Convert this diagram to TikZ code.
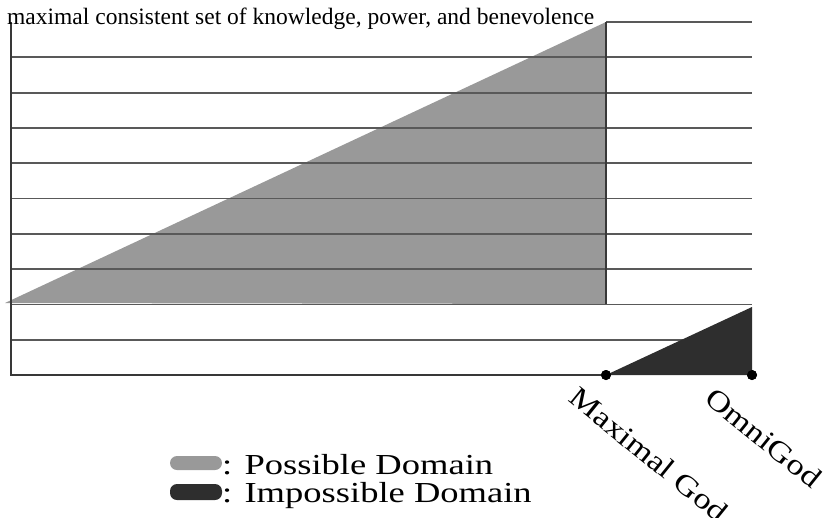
\documentclass[tikz,border=0pt]{standalone}
\usepackage{fontspec}
\setmainfont{Liberation Serif}
\begin{document}
\begin{tikzpicture}[x=1pt,y=-1pt,
    grid/.style={draw=black!65,line width=1.8pt},
    axis/.style={draw=black!78,line width=2.2pt},
    possible/.style={fill=black!40},
    impossible/.style={fill=black!82},
    dot/.style={circle,fill=black,inner sep=0pt,minimum size=10pt},
    godlabel/.style={font=\fontsize{29}{29}\selectfont\addfontfeature{FakeStretch=1.2},rotate=-39,anchor=north west,inner sep=0pt},
    legendbar/.style={rounded corners=7pt,minimum width=52pt,minimum height=14pt,inner sep=0pt},
    legendtext/.style={font=\fontsize{29}{29}\selectfont\addfontfeature{FakeStretch=1.26},anchor=base west,inner sep=0pt}]
  \useasboundingbox (0,0) rectangle (838,517);
  \coordinate (low) at (5,303); % left tip of the possible domain
  \coordinate (top) at (606,22);
  \coordinate (mid) at (606,304);
  \coordinate (right) at (752,307); % top of the impossible domain
  \node[dot] (maxgod) at (606,375) {}; % Maximal God
  \node[dot] (omni) at (752,375) {}; % OmniGod
  \fill[possible] (low) -- (top) -- (mid) -- cycle; % possible domain
  \foreach \k in {1,...,9}
    \draw[grid] (11,22+35.3*\k) -- (752,22+35.3*\k); % levels
  \draw[grid] (top) -- (752,22);
  \draw[axis] (11,375) -- (maxgod.center);
  \fill[impossible] (maxgod.center) -- (omni.center) -- (right) -- cycle; % impossible domain
  \draw[axis] (top) -- (mid);
  \draw[axis] (11,22) -- (11,376);
  \node[dot] at (maxgod) {};
  \node[dot] at (omni) {};
  \node[font=\fontsize{23.5}{23.5}\selectfont,anchor=base west,inner sep=0pt] (title) at (7,24)
    {maximal consistent set of knowledge, power, and benevolence};
  \node[godlabel] (lmax) at (580,385) {Maximal God};
  \node[godlabel] (lomni) at (716,386) {OmniGod};
  \node[legendbar,fill=black!40] (pbar) at (196,463) {};
  \node[legendbar,fill=black!82,minimum height=16pt] (ibar) at (196,492) {};
  \node[legendtext] (ptext) at (222,474) {: Possible Domain};
  \node[legendtext] (itext) at (222,502) {: Impossible Domain};
\end{tikzpicture}
\end{document}
